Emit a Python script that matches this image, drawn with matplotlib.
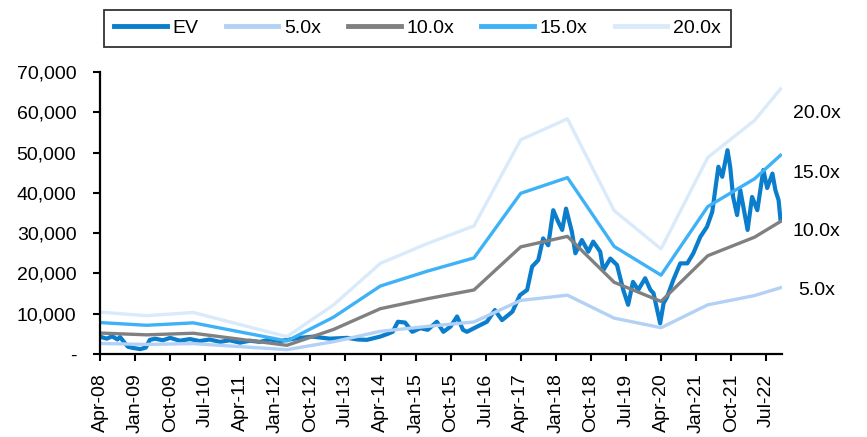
import numpy as np
import pandas as pd
import matplotlib
matplotlib.use("Agg")
import matplotlib.pyplot as plt
import matplotlib.dates as mdates
from matplotlib.ticker import FuncFormatter

plt.rcParams['font.family'] = ['Liberation Sans', 'DejaVu Sans']

# EBITDA used for the multiple bands (fiscal year points)
ebitda_dates = ["2008-04-01", "2009-03-31", "2010-03-31", "2012-03-31", "2013-03-31",
                "2014-03-31", "2015-03-31", "2016-03-31", "2017-03-31", "2018-03-31",
                "2019-03-31", "2020-03-31", "2021-03-31", "2022-03-31", "2022-10-20"]
ebitda = [520, 475, 515, 215, 610, 1125, 1370, 1590, 2660, 2920,
          1780, 1305, 2440, 2900, 3290]

multiples = [5.0, 10.0, 15.0, 20.0]
band_labels = ["5.0x", "10.0x", "15.0x", "20.0x"]

# enterprise value
ev_dates = ["2008-04-01", "2008-05-25", "2008-07-05", "2008-08-15", "2008-09-05",
            "2008-10-05", "2008-11-05", "2008-12-15", "2009-02-10", "2009-03-25",
            "2009-04-25", "2009-06-05", "2009-08-05", "2009-10-01", "2009-12-15",
            "2010-03-05", "2010-05-20", "2010-08-05", "2010-10-25", "2011-01-10",
            "2011-03-30", "2011-06-15", "2011-09-01", "2011-11-20", "2012-02-05",
            "2012-04-01", "2012-07-10", "2012-10-20", "2013-03-01", "2013-07-15",
            "2013-10-05", "2013-12-15", "2014-03-28", "2014-05-28", "2014-07-05",
            "2014-08-15", "2014-10-10", "2014-12-05", "2015-02-05", "2015-04-05",
            "2015-06-15", "2015-08-05", "2015-09-30", "2015-11-20", "2016-01-05",
            "2016-02-05", "2016-04-25", "2016-07-10", "2016-09-10", "2016-11-05",
            "2017-01-25", "2017-03-25", "2017-05-20", "2017-06-28", "2017-08-15",
            "2017-09-22", "2017-11-01", "2017-12-10", "2018-01-18", "2018-02-18",
            "2018-03-20", "2018-05-05", "2018-06-01", "2018-07-22", "2018-09-10",
            "2018-10-18", "2018-12-12", "2019-01-05", "2019-03-01", "2019-04-22",
            "2019-06-10", "2019-07-18", "2019-08-25", "2019-10-05", "2019-11-28",
            "2020-01-08", "2020-02-01", "2020-03-24", "2020-04-20", "2020-05-18",
            "2020-07-05", "2020-08-28", "2020-10-22", "2020-12-08", "2021-02-01",
            "2021-03-25", "2021-05-05", "2021-05-28", "2021-06-22", "2021-07-22",
            "2021-09-01", "2021-09-22", "2021-10-15", "2021-11-15", "2021-12-10",
            "2022-02-05", "2022-03-12", "2022-04-22", "2022-06-08", "2022-07-08",
            "2022-08-18", "2022-09-10", "2022-10-05", "2022-10-20"]
ev = [4300, 3800, 4400, 3600, 4200,
      3000, 1800, 1500, 1200, 1600,
      3500, 3800, 3400, 4000, 3300,
      3700, 3200, 3600, 3000, 3400,
      2800, 3300, 3000, 3600, 3200,
      3500, 4000, 4300, 3800, 4000,
      3600, 3500, 4300, 5000, 5500,
      8000, 7800, 5500, 6400, 6000,
      8000, 5500, 6800, 9300, 6000,
      5500, 6800, 8000, 10900, 8400,
      10500, 14600, 15900, 21700, 23300,
      28700, 27000, 35700, 32800, 30800,
      36100, 30300, 25000, 28300, 25400,
      27900, 25400, 20800, 23700, 22100,
      15900, 12200, 17900, 15900, 18800,
      15900, 15100, 7600, 12600, 14200,
      18400, 22500, 22500, 25000, 29100,
      31600, 35300, 40700, 46500, 44000,
      50600, 46500, 39000, 34500, 40700,
      30800, 39000, 35700, 45700, 41200,
      44800, 40700, 38200, 33300]

ev_color = "#0A7DCC"
band_colors = ["#B3D1F5", "#808080", "#3FB2F7", "#D9EAFB"]

ebitda_dt = pd.to_datetime(ebitda_dates)
ebitda = np.array(ebitda, dtype=float)

fig = plt.figure(figsize=(8.67, 4.37), dpi=100)
ax = fig.add_axes([0.1153, 0.19, 0.787, 0.645])

ax.plot(pd.to_datetime(ev_dates), ev, color=ev_color, linewidth=3.0, label="EV",
        solid_joinstyle="round")
for m, lab, c in zip(multiples, band_labels, band_colors):
    ax.plot(ebitda_dt, ebitda * m, color=c, linewidth=2.4, label=lab)

ax.set_ylim(0, 70000)
ax.set_yticks(np.arange(0, 70001, 10000))
ax.yaxis.set_major_formatter(FuncFormatter(lambda v, p: "-" if v == 0 else f"{v:,.0f}"))

ax.set_xlim(pd.Timestamp("2008-04-01"), pd.Timestamp("2022-11-03"))
ticks = pd.date_range("2008-04-01", periods=20, freq="9MS")
ax.set_xticks(ticks)
ax.xaxis.set_major_formatter(mdates.DateFormatter("%b-%y"))
plt.setp(ax.get_xticklabels(), rotation=90)

for s in ["top", "right"]:
    ax.spines[s].set_visible(False)
for s in ["left", "bottom"]:
    ax.spines[s].set_linewidth(1.6)
ax.tick_params(axis="both", direction="out", length=5, width=1.5, labelsize=14,
               colors="black")
ax.tick_params(axis="y", pad=12)
ax.tick_params(axis="x", pad=9)

leg = fig.legend(loc="center", bbox_to_anchor=(0.4815, 0.935), ncol=5, fontsize=14,
                 frameon=True, fancybox=False, edgecolor="black", handlelength=2.7,
                 columnspacing=1.4, handletextpad=0.3, borderpad=0.5)
leg.get_frame().set_linewidth(1.3)
for line in leg.get_lines():
    line.set_linewidth(3.5)

# band labels at the right edge
right_y = [0.336, 0.471, 0.604, 0.741]
for lab, yy in zip(band_labels, right_y):
    fig.text(0.942, yy, lab, fontsize=14, ha="center", va="center")

fig.savefig("out.png", dpi=100)
